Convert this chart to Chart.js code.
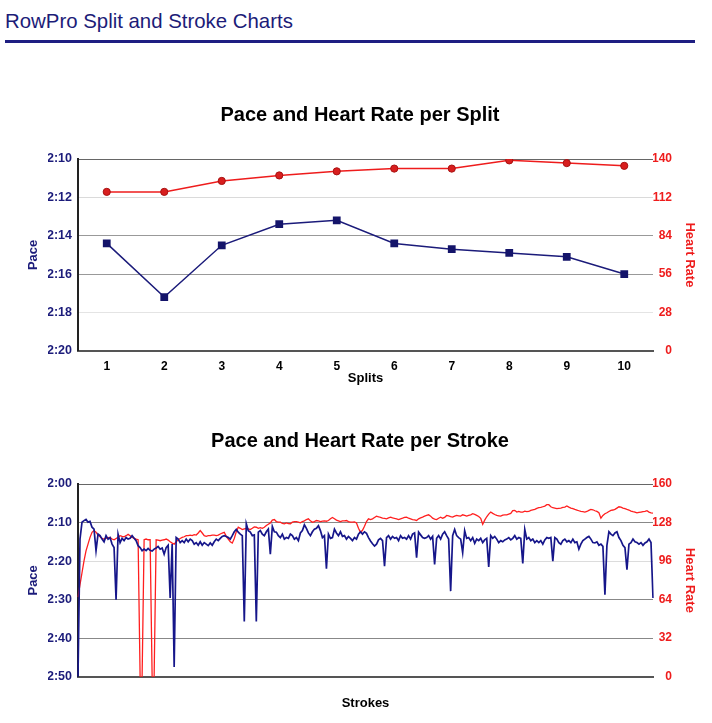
<!DOCTYPE html>
<html>
<head>
<meta charset="utf-8">
<script src="https://cdn.jsdelivr.net/npm/chart.js@4.4.1/dist/chart.umd.min.js"></script>
<style>
body{margin:0;background:#fff;width:712px;height:723px;position:relative;overflow:hidden;font-family:"Liberation Sans",Arial,sans-serif;}
#head{position:absolute;left:5px;top:9px;font-size:20.4px;line-height:24px;color:#1c1c78;white-space:nowrap;}
#rule{position:absolute;left:5px;top:40px;width:690px;height:3px;background:#1e1e82;}
canvas{position:absolute;left:0;}
#splitChart{top:80px;}
#strokeChart{top:405px;}
</style>
</head>
<body>
<div id="head">RowPro Split and Stroke Charts</div>
<div id="rule"></div>
<canvas id="splitChart" width="712" height="310"></canvas>
<canvas id="strokeChart" width="712" height="310"></canvas>
<script>
// split data (pace in seconds per 500m, heart rate in bpm)
const splitLabels = ["1","2","3","4","5","6","7","8","9","10"];
const splitPace = [134.4,137.2,134.5,133.4,133.2,134.4,134.7,134.9,135.1,136.0];
const splitHR = [116,116,124,128,131,133,133,139,137,135];

// stroke data
const strokePace = [
170,134.3,129.9,129.5,129.2,129.9,129.7,131.2,131.7,137.3,
133,133.4,134.3,135,133.4,134.3,133.9,135.6,136.5,150,
133,135.2,134.1,134.7,133.9,134.3,134.1,133.4,134.1,134.7,
136,136.5,137.3,136.9,137.3,136.7,137.2,137.4,136.9,136.6,
136.2,136.9,136.6,138.2,136.5,135.9,149.6,135.6,167.5,133.9,
134.3,135.2,134.7,135.2,134.3,135,134.3,134.7,135.6,135.2,
135.9,135,135.9,135.2,135.6,136,135.3,135.9,135,134.3,
134.7,134.1,133.6,133.4,133.6,133.9,134.3,133.4,132.4,131.8,
132.5,133,133.4,155.7,130.3,132.1,132.5,133.4,133.2,155.7,
132.5,132.1,133,133.4,132.4,131.7,138.2,131,132.4,132.5,
133.4,133.9,133,134.3,133.9,134.1,133,133.4,134.3,133.9,
134.7,132.7,132.1,130.6,131.5,132.7,133.4,132.4,131.7,131.5,
130.8,132.1,133.9,133.4,142,133,134.1,133.9,131.7,132.7,
133.4,132.4,133.6,133.4,134.3,133.6,134.1,134.7,133.9,134.3,
133,132.4,133,132.4,132.8,133.9,134.8,135.5,136.1,135.6,
134.5,134.1,134.7,141.3,133.9,133.4,134.3,133.6,134.1,133.9,
134.7,133.4,134.1,133.9,134.3,133.4,134.3,133,132.7,139.1,
132.5,133.2,133.9,134.1,133.9,133.4,134.3,133.6,140.9,134.1,
133.4,134.3,133,132.4,133.4,134.3,147.8,133.4,131.8,133.4,
133.9,134.3,137.8,132.1,134.1,133.9,134.7,133.9,135.4,134.3,
134.7,134.1,135.2,134.5,134.1,141.5,133.4,134.1,133.6,134.3,
135.2,134.7,135,134.5,134.3,133.9,134.5,134.1,133.4,134.3,
133.9,134.1,140.6,131.8,134.3,133.9,134.7,134.3,135.2,134.7,
135.2,134.7,135.6,134.5,133.9,134.1,133.9,140,133.9,134.3,
135.2,135.6,134.7,134.3,135,134.7,135.2,134.3,135.2,135,
136.9,135.6,134.7,134.3,133.9,133.6,134.3,135.2,135.3,135,
135.9,135.6,136.2,148.7,135.9,132.4,133,133.4,132.7,132.4,
133.9,134.7,135.9,136.5,142.2,135.6,135.2,134.3,135,135.2,
135.6,135.2,135.9,135.3,135,134.3,135.2,149.6
];
const strokeHR = [
66,76.5,86.3,96.1,104.5,110.1,115.7,119.9,121.3,119.9,
117.6,116.2,114.8,114.3,114.8,115.4,115.7,114.3,113.7,114.8,
115.7,117.1,116.5,116.2,117.1,118.2,117.1,115.7,115.1,114.3,
113.7,0,0,113.7,114.3,113.7,113.7,0,0,113.7,
113.4,112.9,113.4,113.7,114.3,113.4,112,110.9,110.1,112,
113.7,114.8,115.7,116.2,117.1,117.1,117.6,117.1,117.9,117.6,
119.3,121.3,119.3,117.1,116.5,117.1,117.1,117.6,117.6,117.1,
117.6,118.5,119.3,119.9,116.5,114.3,112,110.9,114.8,120.4,
124.1,123.2,122.1,122.7,123.2,122.7,122.1,123.2,124.4,124.1,
123.2,123.8,123.2,124.1,125.5,126.6,127.7,130,130.5,128.8,
128.3,128.3,127.2,126.9,127.7,127.2,126.9,128.3,128.8,128.8,
128.3,127.7,128.8,129.4,130.5,131.1,129.4,128.3,128.8,129.7,
129.4,128.8,129.1,129.4,129.1,129.7,131.1,132.2,131.1,130,
129.4,128.8,129.4,129.4,129.7,128.8,128.3,128.3,128.6,127.7,
123.2,119.9,121.6,124.9,128.8,131.1,130.5,131.1,132.2,133.3,
132.8,132.2,131.6,131.4,131.1,131.9,132.5,131.9,131.4,131.1,
130.5,131.1,131.6,132.2,132.5,131.6,131.1,130.5,130.2,129.7,
131.1,131.9,132.5,133.3,133.9,134.4,133.3,131.6,130.8,130.5,
131.6,132.5,131.6,132.2,133.9,133.6,133,132.5,133.3,133.9,
133.6,133.3,134.4,133.9,133.3,133.9,134.4,135.3,134.7,133.9,
133,131.5,126.6,130,132.8,135,136.7,135.6,134.7,133.9,
133.6,133.3,134.2,134.4,134.4,135,135.6,137.9,138.1,136.7,
137.2,136.7,136.7,137.5,137,137.2,138.1,138.6,138.9,139.8,
140.3,140.5,141.1,141.7,142.8,142.8,141.1,140.3,140,139.5,
139.8,140,140.5,140.8,141.7,140.8,140,139.5,138.9,138.4,
137.8,137.2,137,136.7,137.2,138.1,138.9,138.6,137.8,137.2,
136.1,131.6,133.9,135.3,136.1,137.2,138.1,138.4,138.9,140,
141.1,140.8,140,139.5,138.9,138.4,137.5,137,136.7,136.1,
136.4,136.7,137,137.2,137.8,136.7,136.1,135.8
];
const strokeLabels = strokePace.map((v, i) => i + 1);

const paceColor = "#1b1b7a";
const hrColor = "#ee1c1c";

Chart.defaults.font.family = "'Liberation Sans', Arial, sans-serif";
Chart.defaults.font.size = 12;

function fmtPace(v){
const m = Math.floor(v / 60);
const s = Math.round(v - m * 60);
return m + ":" + (s < 10 ? "0" : "") + s;
}

function makeOptions(title, titleShift, xTitle, paceRange, hrRange, gridColors, showXTicks, xTitlePad){
return {
responsive:false,
animation:false,
devicePixelRatio:1,
layout:{ padding:{ left:48, right:40, top:0, bottom:4.2 } },
plugins:{
legend:{ display:false },
tooltip:{ enabled:false },
title:{
display:true,
text:title,
color:"#000",
font:{ size:20, weight:"bold" },
padding:{ top:22.5 + titleShift, bottom:32.5 - titleShift }
}
},
scales:{
x:{
offset:showXTicks,
grid:{ display:false, drawTicks:false },
border:{ display:true, color:"#555", width:2 },
ticks:{ display:showXTicks, color:"#000", padding:9, font:{ size:12, weight:"bold" } },
title:{ display:true, text:xTitle, color:"#000", font:{ size:13, weight:"bold" }, padding:{ top:xTitlePad, bottom:0 } }
},
pace:{
type:"linear",
position:"left",
reverse:true,
min:paceRange[0],
max:paceRange[1],
afterFit:s => { s.width = 30; },
grid:{ drawTicks:false, color:c => gridColors[c.index], lineWidth:1 },
border:{ display:true, color:"#222", width:2 },
ticks:{ stepSize:paceRange[2], padding:6, color:paceColor, font:{ size:12.5, weight:"bold" }, callback:v => fmtPace(v) },
title:{ display:true, text:"Pace", color:paceColor, font:{ size:13, weight:"bold" }, padding:{ top:-22.5, bottom:0 } }
},
hr:{
type:"linear",
position:"right",
min:hrRange[0],
max:hrRange[1],
afterFit:s => { s.width = 19; },
grid:{ display:false, drawTicks:false },
border:{ display:false },
ticks:{ stepSize:hrRange[2], padding:0, crossAlign:"far", color:hrColor, font:{ size:12, weight:"bold" } },
title:{ display:true, text:"Heart Rate", color:hrColor, font:{ size:13, weight:"bold" }, padding:{ top:-25.8, bottom:0 } }
}
}
};
}

new Chart(document.getElementById("splitChart"),{
type:"line",
data:{
labels:splitLabels,
datasets:[{
label:"Pace",
data:splitPace,
yAxisID:"pace",
borderColor:paceColor,
backgroundColor:"#14146a",
borderWidth:1.5,
pointStyle:"rect",
pointRadius:5.5,
pointBorderWidth:0,
tension:0
},{
label:"Heart Rate",
data:splitHR,
yAxisID:"hr",
borderColor:hrColor,
backgroundColor:"#d81e1e",
pointBorderColor:"#a81212",
borderWidth:1.5,
pointStyle:"circle",
pointRadius:3.6,
pointBorderWidth:1,
tension:0
}]
},
options:makeOptions("Pace and Heart Rate per Split",1,"Splits",[130,140,2],[0,140,28],
["#8a8a8a","#e4e4e4","#999","#999","#dadada","#666"],true,-13)
});

new Chart(document.getElementById("strokeChart"),{
type:"line",
data:{
labels:strokeLabels,
datasets:[{
label:"Pace",
data:strokePace,
yAxisID:"pace",
borderColor:"#16168a",
borderWidth:1.7,
pointRadius:0,
tension:0
},{
label:"Heart Rate",
data:strokeHR,
yAxisID:"hr",
borderColor:"#ff1f1f",
borderWidth:1.3,
pointRadius:0,
tension:0
}]
},
options:makeOptions("Pace and Heart Rate per Stroke",2,"Strokes",[120,170,10],[0,160,32],
["#999","#888","#888","#dcdcdc","#888","#666"],false,18.5)
});
</script>
</body>
</html>
